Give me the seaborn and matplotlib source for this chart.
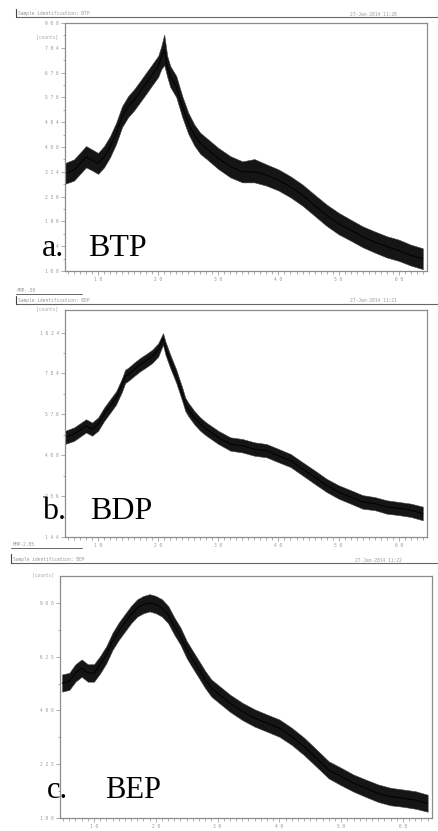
import numpy as np
import pandas as pd
import matplotlib
matplotlib.use('Agg')
import matplotlib.pyplot as plt
import seaborn as sns
from matplotlib.ticker import FixedLocator, NullFormatter


# XRD patterns (2theta in degrees, intensity in counts)
btp_x = [4.5, 6, 8, 9, 10, 11, 12, 13, 14, 15, 16, 17, 18, 19, 20, 20.5, 21, 21.5, 22, 23, 24, 25, 26, 27, 28,
         30, 32, 34, 36, 38, 40, 42, 44, 46, 48, 50, 52, 54, 56, 58, 60, 62, 64]
btp_counts = [319, 329, 369, 359, 349, 369, 401, 445, 504, 541, 566, 599, 632, 667, 702, 738, 775, 702, 660, 619,
              541, 480, 440, 412, 396, 364, 339, 324, 324, 315, 300, 282, 260, 234, 210, 191, 177, 163, 152, 143,
              136, 127, 121]
btp_low = [290, 299, 337, 328, 318, 337, 368, 410, 467, 502, 527, 558, 590, 624, 658, 690, 708, 658, 617, 577,
           502, 444, 405, 378, 363, 332, 308, 294, 294, 285, 272, 254, 233, 209, 186, 168, 155, 142, 132, 123,
           117, 109, 103]
btp_high = [350, 361, 403, 392, 381, 403, 436, 482, 543, 581, 608, 641, 676, 711, 748, 790, 845, 748, 704, 662,
            581, 518, 476, 447, 430, 397, 371, 355, 362, 346, 331, 311, 288, 261, 236, 216, 200, 185, 174, 164,
            157, 147, 140]

bdp_x = [4.5, 6, 8, 9, 10, 11, 12, 13, 14, 14.5, 15, 16, 17, 18, 19, 20, 20.8, 21.2, 22, 23, 24, 24.5, 25, 26,
         27, 28, 30, 32, 34, 36, 38, 40, 42, 44, 46, 48, 50, 52, 54, 56, 58, 60, 62, 64]
bdp_counts = [473, 487, 523, 508, 531, 576, 615, 657, 725, 768, 777, 806, 833, 856, 880, 919, 989, 929, 852, 769,
              674, 624, 600, 561, 531, 508, 473, 445, 438, 424, 418, 398, 379, 349, 319, 291, 269, 253, 238, 233,
              223, 219, 214, 204]
bdp_low = [445, 458, 494, 480, 501, 545, 583, 623, 689, 732, 743, 770, 796, 818, 842, 879, 949, 890, 814, 733,
           640, 592, 568, 530, 501, 480, 445, 418, 411, 398, 392, 373, 355, 325, 296, 269, 248, 233, 218, 214,
           204, 200, 195, 186]
bdp_high = [501, 516, 553, 538, 561, 608, 648, 689, 759, 804, 815, 844, 871, 894, 919, 958, 1020, 969, 890, 805,
            708, 657, 632, 592, 561, 538, 501, 473, 466, 452, 445, 425, 405, 373, 343, 313, 291, 275, 259, 253,
            243, 238, 233, 224]

bep_x = [4.84, 6, 7, 8, 9, 10, 11, 12, 13, 14, 15, 16, 17, 18, 19, 20, 21, 22, 23, 24, 25, 26, 27, 28, 29, 30,
         32, 34, 36, 38, 40, 42, 44, 46, 48, 50, 52, 54, 56, 58, 60, 62, 64]
bep_counts = [508, 515, 551, 573, 551, 551, 588, 634, 699, 749, 792, 836, 872, 891, 900, 891, 872, 836, 774, 723,
              658, 611, 566, 523, 488, 467, 428, 396, 372, 354, 337, 309, 277, 242, 209, 192, 175, 163, 151, 144,
              140, 136, 129]
bep_low = [473, 480, 514, 535, 514, 514, 550, 595, 657, 705, 747, 790, 825, 843, 853, 843, 825, 790, 731, 681,
           618, 572, 529, 487, 453, 433, 395, 365, 342, 325, 308, 282, 251, 218, 187, 170, 155, 143, 132, 125,
           122, 118, 112]
bep_high = [545, 552, 590, 612, 590, 590, 628, 675, 741, 793, 838, 883, 920, 939, 949, 939, 920, 883, 820, 767,
            700, 651, 605, 560, 523, 502, 461, 429, 404, 385, 367, 338, 305, 268, 233, 215, 197, 184, 172, 164,
            160, 156, 148]

x_major = [10, 20, 30, 40, 50, 60]
x_minor = list(range(5, 65))

sns.set_style('white')
plt.rcParams['font.family'] = ['DejaVu Sans']

W, H = 438, 831
fig = plt.figure(figsize=(W / 100, H / 100), dpi=100)
GREY = '#8c8c8c'
MONO = 'DejaVu Sans Mono'


def rect(l, t, r, b):
    return [l / W, 1 - b / H, (r - l) / W, (b - t) / H]


def ftext(x, y, s, **kw):
    fig.text(x / W, 1 - y / H, s, **kw)


def hline(x0, x1, y, lw=0.8):
    fig.add_artist(plt.Line2D([x0 / W, x1 / W], [1 - y / H, 1 - y / H], color='#666666', lw=lw))


def vline(x, y0, y1):
    fig.add_artist(plt.Line2D([x / W, x / W], [1 - y0 / H, 1 - y1 / H], color='#444444', lw=0.8))


def panel(box, x, counts, low, high, ylim, y_major, y_minor):
    ax = fig.add_axes(box)
    ax.fill_between(x, low, high, color='#151515', lw=0.4, edgecolor='#444444')
    sns.lineplot(x=x, y=counts, ax=ax, color='black', lw=0.7)
    ax.set_yscale('function', functions=(np.sqrt, np.square))
    ax.set_xlim(4.5, 64.7)
    ax.set_ylim(*ylim)
    ax.xaxis.set_major_locator(FixedLocator(x_major))
    ax.xaxis.set_minor_locator(FixedLocator(x_minor))
    ax.yaxis.set_major_locator(FixedLocator(y_major))
    ax.yaxis.set_minor_locator(FixedLocator(y_minor))
    ax.yaxis.set_minor_formatter(NullFormatter())
    ax.set_yticklabels([' '.join(str(v)) for v in y_major])
    ax.set_xticklabels([' '.join(str(v)) for v in x_major])
    for lab in ax.get_xticklabels() + ax.get_yticklabels():
        lab.set_fontfamily(MONO)
        lab.set_fontsize(3.3)
        lab.set_color('#999999')
    ax.tick_params(which='major', direction='out', length=3, width=0.5, color=GREY, pad=1.5)
    ax.tick_params(which='minor', direction='out', length=1.8, width=0.5, color=GREY)
    ax.tick_params(left=True, bottom=True)
    ax.tick_params(which='minor', left=True, bottom=True)
    for sp in ax.spines.values():
        sp.set_color(GREY)
        sp.set_linewidth(0.9)
    ax.set_xlabel('')
    ax.set_ylabel('')
    return ax


# panel a : BTP
panel(rect(65, 23, 427, 271), btp_x, btp_counts, btp_low, btp_high, (100, 900),
      [100, 144, 196, 256, 324, 400, 484, 576, 676, 784, 900],
      [121, 169, 225, 289, 361, 441, 529, 625, 729, 841])
hline(16, 438, 17)
vline(16, 9, 17)
ftext(18, 15.5, 'Sample identification: BTP', fontsize=3.3, family=MONO, color='#999999')
ftext(350, 15.5, '27-Jan-2014 11:20', fontsize=3.3, family=MONO, color='#999999')
ftext(58, 38.5, '[counts]', fontsize=3.3, family=MONO, color='#aaaaaa', ha='right')
ftext(42, 256, 'a.', fontsize=23, family='Liberation Serif', color='black')
ftext(88, 256, 'BTP', fontsize=23, family='Liberation Serif', color='black')

# panel b : BDP
panel(rect(65, 310, 427, 537), bdp_x, bdp_counts, bdp_low, bdp_high, (144, 1170),
      [144, 256, 400, 576, 784, 1024],
      [196, 324, 484, 676, 900])
hline(16, 82, 294, lw=0.7)
ftext(17, 292, 'AMP-.50', fontsize=3.3, family=MONO, color='#999999')
hline(16, 438, 304)
vline(16, 296, 304)
ftext(18, 302.5, 'Sample identification: BDP', fontsize=3.3, family=MONO, color='#999999')
ftext(350, 302.5, '27-Jan-2014 11:21', fontsize=3.3, family=MONO, color='#999999')
ftext(58, 310.5, '[counts]', fontsize=3.3, family=MONO, color='#aaaaaa', ha='right')
ftext(42, 519, 'b.', fontsize=23, family='Liberation Serif', color='black')
ftext(90, 519, 'BDP', fontsize=23, family='Liberation Serif', color='black')

# panel c : BEP
panel(rect(60, 576, 432, 818), bep_x, bep_counts, bep_low, bep_high, (100, 1056),
      [100, 225, 400, 625, 900],
      [156, 306, 506, 756])
hline(11, 82, 548, lw=0.7)
ftext(13, 546, 'MMP-2.85', fontsize=3.3, family=MONO, color='#999999')
hline(11, 438, 563)
vline(11, 554, 563)
ftext(13, 561.5, 'Sample identification: BEP', fontsize=3.3, family=MONO, color='#999999')
ftext(355, 561.5, '27-Jan-2014 11:22', fontsize=3.3, family=MONO, color='#999999')
ftext(54, 576.5, '[counts]', fontsize=3.3, family=MONO, color='#aaaaaa', ha='right')
ftext(47, 798, 'c.', fontsize=22, family='Liberation Serif', color='black')
ftext(105, 798, 'BEP', fontsize=22, family='Liberation Serif', color='black')

fig.savefig('out.png', dpi=100)
